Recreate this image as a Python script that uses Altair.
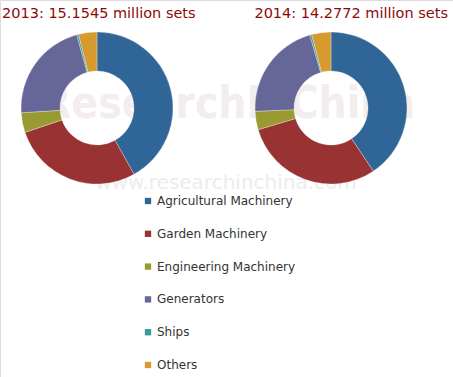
import altair as alt
import pandas as pd

categories = ["Agricultural Machinery", "Garden Machinery", "Engineering Machinery",
              "Generators", "Ships", "Others"]
share_2013 = [41.9, 27.9, 4.2, 21.7, 0.4, 3.9]
share_2014 = [40.6, 29.8, 3.9, 21.2, 0.4, 4.1]
titles = ["2013: 15.1545 million sets", "2014: 14.2772 million sets"]
colors = ["#306598", "#993333", "#9A9A32", "#666699", "#339C9C", "#D69A2E"]

rows = []
for yr, vals in (("2013", share_2013), ("2014", share_2014)):
    for i, (c, v) in enumerate(zip(categories, vals)):
        rows.append({"year": yr, "category": c, "share": v, "ord": i})
df = pd.DataFrame(rows)

color = alt.Color("category:N", sort=categories,
                  scale=alt.Scale(domain=categories, range=colors),
                  legend=alt.Legend(title=None, orient="none", legendX=142, legendY=195,
                                    symbolType="square", symbolSize=40, symbolStrokeWidth=0,
                                    labelFont="DejaVu Sans", labelFontSize=12,
                                    labelColor="#333333", rowPadding=20.8, labelOffset=3))

def donut(year, cx):
    return alt.Chart(df).transform_filter(alt.datum.year == year).mark_arc(
        outerRadius=76, innerRadius=37, stroke="white", strokeWidth=0.3
    ).encode(
        x=alt.value(cx), y=alt.value(108),
        theta=alt.Theta("share:Q", stack=True),
        color=color,
        order=alt.Order("ord:Q"),
    )

# watermark
wm1 = alt.Chart(pd.DataFrame({"t": ["ResearchInChina"]})).mark_text(
    font="DejaVu Sans Condensed", fontSize=44, fontWeight="bold", color="#f3eded",
    align="center", baseline="middle"
).encode(x=alt.value(228), y=alt.value(105), text="t:N")
wm2 = alt.Chart(pd.DataFrame({"t": ["www.researchinchina.com"]})).mark_text(
    font="DejaVu Sans", fontSize=20, color="#ececec", align="center", baseline="middle"
).encode(x=alt.value(226), y=alt.value(183), text="t:N")

t1 = alt.Chart(pd.DataFrame({"t": [titles[0]]})).mark_text(
    font="DejaVu Sans", fontSize=14.5, color="#8B0A0A", align="left", baseline="alphabetic"
).encode(x=alt.value(2), y=alt.value(18), text="t:N")
t2 = alt.Chart(pd.DataFrame({"t": [titles[1]]})).mark_text(
    font="DejaVu Sans", fontSize=14.5, color="#8B0A0A", align="right", baseline="alphabetic"
).encode(x=alt.value(448), y=alt.value(18), text="t:N")

chart = alt.layer(wm1, wm2, donut("2013", 97), donut("2014", 331), t1, t2).resolve_scale(
    theta="independent"
).properties(
    width=453, height=377, autosize=alt.AutoSizeParams(type="none"), padding=0
).configure_view(stroke=None).configure(background="white")

chart.save("out.html", embed_options={"renderer": "svg", "actions": False})
